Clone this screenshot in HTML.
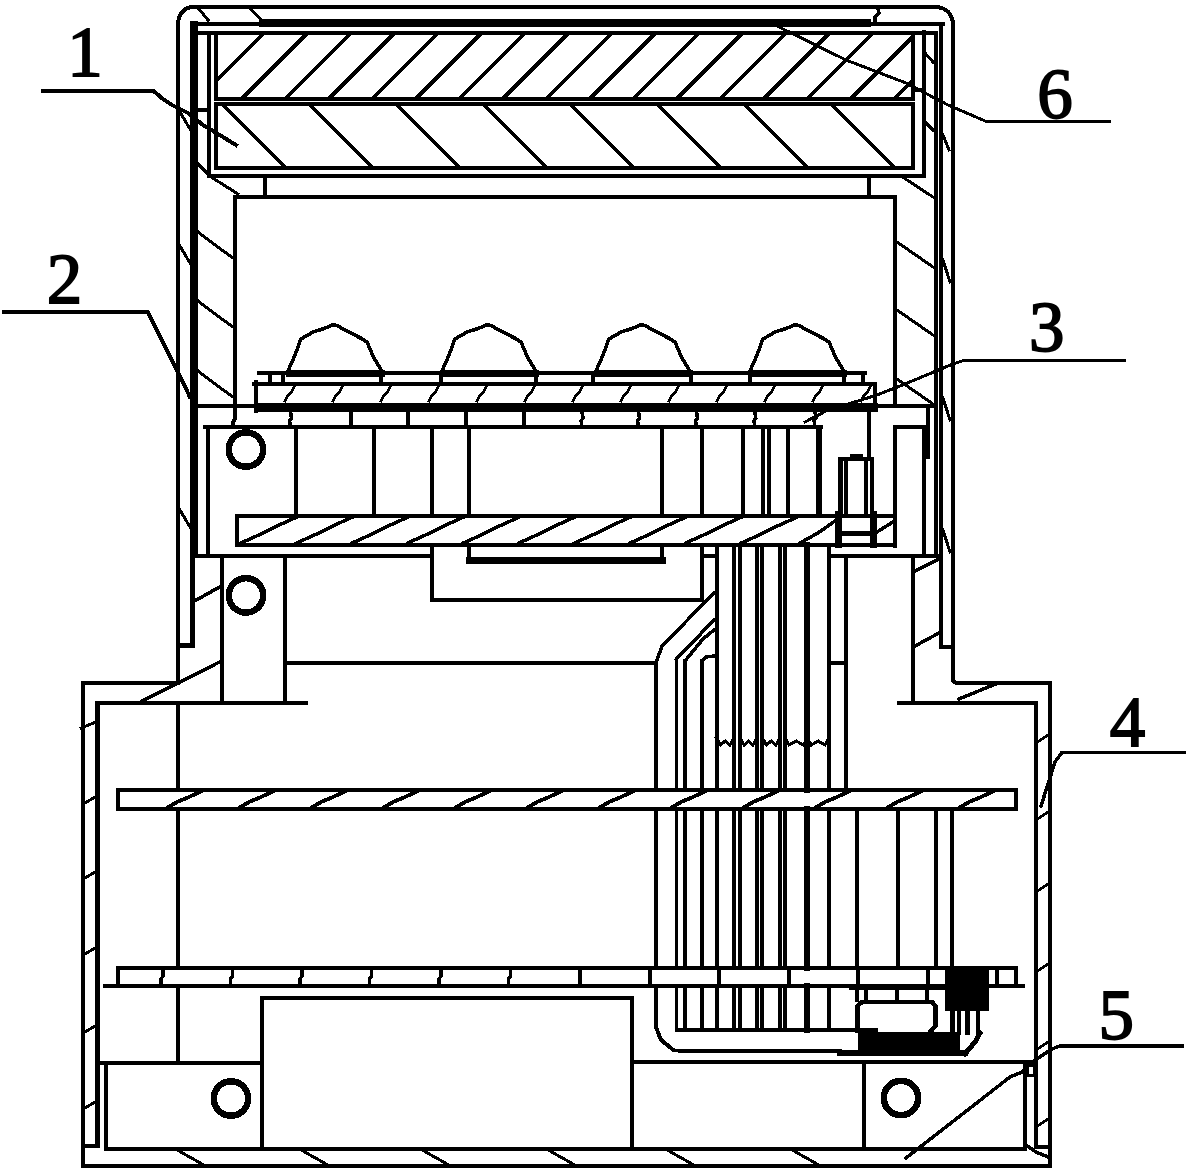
<!DOCTYPE html>
<html><head><meta charset="utf-8"><style>
html,body{margin:0;padding:0;background:#fff;}
svg{display:block;}
text{font-family:"Liberation Serif",serif;}
</style></head><body>
<svg width="1189" height="1172" viewBox="0 0 1189 1172">
<rect width="1189" height="1172" fill="#fff"/>
<g fill="none" stroke="#000" stroke-linejoin="miter" stroke-linecap="square" shape-rendering="crispEdges">
<path d="M178,683 L178,25 C178,14 184,7 194,7 L935,7 C946,7 953,14 953,25 L953,679 Q953,683 958,683 L1050,683 L1050,1166 L83,1166 L83,683 Z" stroke-width="4" fill="none"/>
<polyline points="306,703 97.5,703 97.5,1146 83,1146" stroke-width="4.6"/>
<polyline points="899,703 1036,703 1036,1147 1050,1147" stroke-width="4"/>
<line x1="194" y1="25" x2="194" y2="554" stroke-width="8"/>
<polyline points="178,645.5 192.4,645.5 192.4,556" stroke-width="4.8"/>
<line x1="194" y1="24" x2="943" y2="24" stroke-width="4"/>
<line x1="263" y1="23" x2="867" y2="23" stroke-width="8"/>
<polyline points="941,24 941,647 953,647" stroke-width="4"/>
<polyline points="208.5,176 208.5,33" stroke-width="4"/>
<polyline points="194,33 935.5,33 935.5,556" stroke-width="4"/>
<polyline points="208.5,176 923.5,176 923.5,32" stroke-width="4"/>
<polygon points="215.5,33 912.5,33 912.5,98.5 215.5,98.5" stroke-width="4"/>
<polygon points="215.5,104 912.5,104 912.5,167.5 215.5,167.5" stroke-width="4"/>
<line x1="264.5" y1="176" x2="264.5" y2="197" stroke-width="4"/>
<line x1="869" y1="176" x2="869" y2="197" stroke-width="4"/>
<polyline points="235,418 235,196.5 895,196.5 895,405" stroke-width="4"/>
<line x1="198" y1="406" x2="933" y2="406" stroke-width="4"/>
<line x1="262" y1="35" x2="217" y2="80" stroke-width="3.8"/>
<line x1="305.5" y1="35" x2="243.5" y2="97" stroke-width="3.8"/>
<line x1="349.0" y1="35" x2="287.0" y2="97" stroke-width="3.8"/>
<line x1="392.5" y1="35" x2="330.5" y2="97" stroke-width="3.8"/>
<line x1="436.0" y1="35" x2="374.0" y2="97" stroke-width="3.8"/>
<line x1="479.5" y1="35" x2="417.5" y2="97" stroke-width="3.8"/>
<line x1="523.0" y1="35" x2="461.0" y2="97" stroke-width="3.8"/>
<line x1="566.5" y1="35" x2="504.5" y2="97" stroke-width="3.8"/>
<line x1="610.0" y1="35" x2="548.0" y2="97" stroke-width="3.8"/>
<line x1="653.5" y1="35" x2="591.5" y2="97" stroke-width="3.8"/>
<line x1="697.0" y1="35" x2="635.0" y2="97" stroke-width="3.8"/>
<line x1="740.5" y1="35" x2="678.5" y2="97" stroke-width="3.8"/>
<line x1="784.0" y1="35" x2="722.0" y2="97" stroke-width="3.8"/>
<line x1="827.5" y1="35" x2="765.5" y2="97" stroke-width="3.8"/>
<line x1="871.0" y1="35" x2="809.0" y2="97" stroke-width="3.8"/>
<line x1="911" y1="38.5" x2="852.5" y2="97" stroke-width="3.8"/>
<line x1="911" y1="82.0" x2="896.0" y2="97" stroke-width="3.8"/>
<line x1="224" y1="106" x2="284" y2="166" stroke-width="3.8"/>
<line x1="311" y1="106" x2="371" y2="166" stroke-width="3.8"/>
<line x1="398" y1="106" x2="458" y2="166" stroke-width="3.8"/>
<line x1="485" y1="106" x2="545" y2="166" stroke-width="3.8"/>
<line x1="572" y1="106" x2="632" y2="166" stroke-width="3.8"/>
<line x1="659" y1="106" x2="719" y2="166" stroke-width="3.8"/>
<line x1="746" y1="106" x2="806" y2="166" stroke-width="3.8"/>
<line x1="833" y1="106" x2="893" y2="166" stroke-width="3.8"/>
<polyline points="198,232 215,245 233,258" stroke-width="3"/>
<polyline points="198,301 215,314 233,327" stroke-width="3"/>
<polyline points="198,371 215,384 233,397" stroke-width="3"/>
<line x1="199" y1="110" x2="208" y2="110" stroke-width="4"/>
<line x1="914" y1="90" x2="922" y2="90" stroke-width="4"/>
<polyline points="198,164 211,177 238,194" stroke-width="3"/>
<line x1="180" y1="112" x2="190" y2="129" stroke-width="3"/>
<line x1="180" y1="246" x2="190" y2="263" stroke-width="3"/>
<line x1="180" y1="510" x2="190" y2="527" stroke-width="3"/>
<line x1="897" y1="242" x2="933" y2="267" stroke-width="3"/>
<line x1="897" y1="310" x2="933" y2="335" stroke-width="3"/>
<line x1="897" y1="379" x2="933" y2="404" stroke-width="3"/>
<line x1="943" y1="260" x2="950" y2="282" stroke-width="3"/>
<line x1="943" y1="398" x2="950" y2="420" stroke-width="3"/>
<line x1="943" y1="530" x2="950" y2="552" stroke-width="3"/>
<line x1="925" y1="53" x2="933" y2="62" stroke-width="3"/>
<line x1="925" y1="122" x2="933" y2="130" stroke-width="3"/>
<line x1="904" y1="178" x2="933" y2="197" stroke-width="3"/>
<line x1="943" y1="135" x2="949" y2="150" stroke-width="3"/>
<line x1="199" y1="9" x2="208" y2="20" stroke-width="3"/>
<line x1="251" y1="9" x2="261" y2="20" stroke-width="3"/>
<polyline points="878,9 879,13 875,17 875,20" stroke-width="3.5"/>
<polyline points="288.4,370 293.5,358.5 297.5,348.4 300.6,339.3 312.7,332.2 324.8,328.2 332.9,324.8 336.9,325.5 349,332.2 361.1,338.3 367.2,342.3 373.2,356.5 381.3,370" stroke-width="3.6"/>
<line x1="289" y1="373.5" x2="381" y2="373.5" stroke-width="7"/>
<polyline points="442.4,370 447.5,358.5 451.5,348.4 454.6,339.3 466.7,332.2 478.8,328.2 486.9,324.8 490.9,325.5 503,332.2 515.1,338.3 521.2,342.3 527.2,356.5 535.3,370" stroke-width="3.6"/>
<line x1="443" y1="373.5" x2="535" y2="373.5" stroke-width="7"/>
<polyline points="596.4,370 601.5,358.5 605.5,348.4 608.6,339.3 620.7,332.2 632.8,328.2 640.9,324.8 644.9,325.5 657,332.2 669.1,338.3 675.2,342.3 681.2,356.5 689.3,370" stroke-width="3.6"/>
<line x1="597" y1="373.5" x2="689" y2="373.5" stroke-width="7"/>
<polyline points="750.4,370 755.5,358.5 759.5,348.4 762.6,339.3 774.7,332.2 786.8,328.2 794.9,324.8 798.9,325.5 811,332.2 823.1,338.3 829.2,342.3 835.2,356.5 843.3,370" stroke-width="3.6"/>
<line x1="751" y1="373.5" x2="843" y2="373.5" stroke-width="7"/>
<line x1="259" y1="372.5" x2="865" y2="372.5" stroke-width="4"/>
<line x1="270" y1="374" x2="270" y2="382" stroke-width="4"/>
<line x1="283" y1="374" x2="283" y2="382" stroke-width="4"/>
<line x1="381" y1="374" x2="381" y2="382" stroke-width="4"/>
<line x1="441" y1="374" x2="441" y2="382" stroke-width="4"/>
<line x1="536" y1="374" x2="536" y2="382" stroke-width="4"/>
<line x1="593" y1="374" x2="593" y2="382" stroke-width="4"/>
<line x1="691" y1="374" x2="691" y2="382" stroke-width="4"/>
<line x1="749.5" y1="374" x2="749.5" y2="382" stroke-width="4"/>
<line x1="844" y1="374" x2="844" y2="382" stroke-width="4"/>
<line x1="863" y1="374" x2="863" y2="382" stroke-width="4"/>
<line x1="254" y1="384" x2="874.5" y2="384" stroke-width="4"/>
<line x1="256" y1="382" x2="256" y2="411" stroke-width="4"/>
<line x1="874.5" y1="384" x2="874.5" y2="410" stroke-width="4"/>
<line x1="258" y1="407" x2="873" y2="407" stroke-width="9"/>
<polyline points="285,401 288,395 291,393 294,387" stroke-width="3"/>
<polyline points="333,401 336,395 339,393 342,387" stroke-width="3"/>
<polyline points="381,401 384,395 387,393 390,387" stroke-width="3"/>
<polyline points="429,401 432,395 435,393 438,387" stroke-width="3"/>
<polyline points="477,401 480,395 483,393 486,387" stroke-width="3"/>
<polyline points="525,401 528,395 531,393 534,387" stroke-width="3"/>
<polyline points="573,401 576,395 579,393 582,387" stroke-width="3"/>
<polyline points="621,401 624,395 627,393 630,387" stroke-width="3"/>
<polyline points="669,401 672,395 675,393 678,387" stroke-width="3"/>
<polyline points="717,401 720,395 723,393 726,387" stroke-width="3"/>
<polyline points="765,401 768,395 771,393 774,387" stroke-width="3"/>
<polyline points="813,401 816,395 819,393 822,387" stroke-width="3"/>
<polyline points="861,401 864,395 867,393 870,387" stroke-width="3"/>
<line x1="205" y1="427" x2="821" y2="427" stroke-width="4"/>
<polyline points="290.5,412 291.5,418 289.5,421 290.5,426" stroke-width="3.5"/>
<line x1="351" y1="412" x2="351" y2="426" stroke-width="4"/>
<line x1="408" y1="412" x2="408" y2="426" stroke-width="4"/>
<line x1="466" y1="412" x2="466" y2="426" stroke-width="4"/>
<line x1="524" y1="412" x2="524" y2="426" stroke-width="4"/>
<polyline points="582,412 583,418 581,421 582,426" stroke-width="3.5"/>
<polyline points="638.5,412 639.5,418 637.5,421 638.5,426" stroke-width="3.5"/>
<polyline points="696.5,412 697.5,418 695.5,421 696.5,426" stroke-width="3.5"/>
<polyline points="754.8,412 755.8,418 753.8,421 754.8,426" stroke-width="3.5"/>
<polyline points="815,412 816,418 814,421 815,426" stroke-width="3.5"/>
<line x1="208" y1="427" x2="208" y2="556" stroke-width="4"/>
<polyline points="895,546 895,427 924,427 924,556" stroke-width="4"/>
<line x1="928" y1="409" x2="928" y2="457" stroke-width="4.5"/>
<line x1="296" y1="428" x2="296" y2="514" stroke-width="4"/>
<line x1="373.5" y1="428" x2="373.5" y2="514" stroke-width="4"/>
<line x1="431.5" y1="428" x2="431.5" y2="514" stroke-width="4"/>
<line x1="468.5" y1="428" x2="468.5" y2="514" stroke-width="4"/>
<line x1="662" y1="428" x2="662" y2="514" stroke-width="4"/>
<line x1="702" y1="428" x2="702" y2="514" stroke-width="4"/>
<line x1="742.6" y1="428" x2="742.6" y2="514" stroke-width="4"/>
<line x1="763" y1="428" x2="763" y2="514" stroke-width="4"/>
<line x1="769" y1="428" x2="769" y2="514" stroke-width="4"/>
<line x1="788" y1="428" x2="788" y2="514" stroke-width="4"/>
<line x1="819" y1="428" x2="819" y2="514" stroke-width="6"/>
<polygon points="236.5,515.5 895,515.5 895,544.5 236.5,544.5" stroke-width="4"/>
<polyline points="241.0,543 261.0,534 277.0,526 297.0,517" stroke-width="3.5"/>
<polyline points="296.6,543 316.6,534 332.6,526 352.6,517" stroke-width="3.5"/>
<polyline points="352.2,543 372.2,534 388.2,526 408.2,517" stroke-width="3.5"/>
<polyline points="407.8,543 427.8,534 443.8,526 463.8,517" stroke-width="3.5"/>
<polyline points="463.4,543 483.4,534 499.4,526 519.4,517" stroke-width="3.5"/>
<polyline points="519.0,543 539.0,534 555.0,526 575.0,517" stroke-width="3.5"/>
<polyline points="574.6,543 594.6,534 610.6,526 630.6,517" stroke-width="3.5"/>
<polyline points="630.2,543 650.2,534 666.2,526 686.2,517" stroke-width="3.5"/>
<polyline points="685.8,543 705.8,534 721.8,526 741.8,517" stroke-width="3.5"/>
<polyline points="741.4000000000001,543 761.4000000000001,534 777.4000000000001,526 797.4000000000001,517" stroke-width="3.5"/>
<polyline points="800,543 818,533 835,521" stroke-width="3.5"/>
<polyline points="877,532 893,522" stroke-width="3.5"/>
<polyline points="840.5,514 840.5,458.8 872,458.8 872,514" stroke-width="4.5"/>
<line x1="845.5" y1="460" x2="845.5" y2="514" stroke-width="4"/>
<line x1="866.3" y1="460" x2="866.3" y2="514" stroke-width="4"/>
<rect x="850" y="453.9" width="12.700000000000045" height="4.100000000000023" fill="#000" stroke="none"/>
<line x1="838.8" y1="514" x2="838.8" y2="544.5" stroke-width="7"/>
<line x1="873.5" y1="514" x2="873.5" y2="544.5" stroke-width="7"/>
<line x1="842" y1="533.5" x2="871" y2="533.5" stroke-width="5"/>
<line x1="869" y1="411" x2="869" y2="457" stroke-width="4"/>
<line x1="194" y1="556" x2="431.5" y2="556" stroke-width="4"/>
<line x1="702" y1="556" x2="716" y2="556" stroke-width="4"/>
<line x1="829" y1="556" x2="940" y2="556" stroke-width="4"/>
<circle cx="246" cy="449.5" r="17.2" stroke-width="6.5"/>
<circle cx="246" cy="595.4" r="17.2" stroke-width="6.5"/>
<circle cx="231" cy="1098.5" r="17.2" stroke-width="6.5"/>
<circle cx="901" cy="1098" r="17.2" stroke-width="6.5"/>
<polyline points="235,418 233,423 233,427" stroke-width="4"/>
<line x1="221.5" y1="556" x2="221.5" y2="703" stroke-width="4"/>
<line x1="285" y1="556" x2="285" y2="703" stroke-width="4"/>
<line x1="285" y1="663" x2="655" y2="663" stroke-width="4"/>
<line x1="913" y1="556" x2="913" y2="703" stroke-width="4"/>
<line x1="829" y1="663" x2="846" y2="663" stroke-width="4"/>
<line x1="142" y1="701" x2="219.6" y2="662" stroke-width="3.5"/>
<line x1="194.5" y1="601" x2="219.6" y2="587" stroke-width="3.5"/>
<line x1="81" y1="728" x2="96" y2="722" stroke-width="3"/>
<line x1="915" y1="571" x2="939" y2="559" stroke-width="3.5"/>
<line x1="915" y1="646" x2="939" y2="633" stroke-width="3.5"/>
<line x1="959" y1="699" x2="995.6" y2="684" stroke-width="3.5"/>
<polyline points="431.5,545 431.5,599.5 702,599.5 702,545" stroke-width="4"/>
<polyline points="469,545 469,560 662,560 662,545" stroke-width="4"/>
<line x1="469" y1="560.3" x2="662" y2="560.3" stroke-width="7"/>
<polyline points="656,663 662,646 714,593" stroke-width="3.5"/>
<polyline points="676.5,659 714,620" stroke-width="3.5"/>
<polyline points="685,661 703,639 714,630" stroke-width="3.5"/>
<polyline points="702,661 706,657 714,656" stroke-width="3.5"/>
<line x1="656" y1="663" x2="656" y2="789.5" stroke-width="4"/>
<line x1="656" y1="809.3" x2="656" y2="968" stroke-width="4"/>
<polyline points="656,985.5 656,1027 661,1040 674,1050.5 840,1051" stroke-width="4"/>
<line x1="840" y1="1053" x2="965" y2="1053" stroke-width="6"/>
<line x1="676.5" y1="659" x2="676.5" y2="789.5" stroke-width="3.5"/>
<line x1="676.5" y1="809.3" x2="676.5" y2="968" stroke-width="3.5"/>
<line x1="676.5" y1="985.5" x2="676.5" y2="1030" stroke-width="3.5"/>
<line x1="685" y1="661" x2="685" y2="789.5" stroke-width="3.5"/>
<line x1="685" y1="809.3" x2="685" y2="968" stroke-width="3.5"/>
<line x1="685" y1="985.5" x2="685" y2="1030" stroke-width="3.5"/>
<line x1="702" y1="661" x2="702" y2="789.5" stroke-width="3.5"/>
<line x1="702" y1="809.3" x2="702" y2="968" stroke-width="3.5"/>
<line x1="702" y1="985.5" x2="702" y2="1030" stroke-width="3.5"/>
<line x1="676.5" y1="1029.5" x2="876" y2="1029.5" stroke-width="4"/>
<line x1="716.5" y1="545" x2="716.5" y2="789.5" stroke-width="4"/>
<line x1="716.5" y1="809.3" x2="716.5" y2="968" stroke-width="4"/>
<line x1="716.5" y1="985.5" x2="716.5" y2="1030" stroke-width="4"/>
<line x1="734" y1="545" x2="734" y2="789.5" stroke-width="4"/>
<line x1="734" y1="809.3" x2="734" y2="968" stroke-width="4"/>
<line x1="734" y1="985.5" x2="734" y2="1030" stroke-width="4"/>
<line x1="740" y1="545" x2="740" y2="789.5" stroke-width="4"/>
<line x1="740" y1="809.3" x2="740" y2="968" stroke-width="4"/>
<line x1="740" y1="985.5" x2="740" y2="1030" stroke-width="4"/>
<line x1="757" y1="545" x2="757" y2="789.5" stroke-width="4"/>
<line x1="757" y1="809.3" x2="757" y2="968" stroke-width="4"/>
<line x1="757" y1="985.5" x2="757" y2="1030" stroke-width="4"/>
<line x1="762.4" y1="545" x2="762.4" y2="789.5" stroke-width="4"/>
<line x1="762.4" y1="809.3" x2="762.4" y2="968" stroke-width="4"/>
<line x1="762.4" y1="985.5" x2="762.4" y2="1030" stroke-width="4"/>
<line x1="780" y1="545" x2="780" y2="789.5" stroke-width="4"/>
<line x1="780" y1="809.3" x2="780" y2="968" stroke-width="4"/>
<line x1="780" y1="985.5" x2="780" y2="1030" stroke-width="4"/>
<line x1="785" y1="545" x2="785" y2="789.5" stroke-width="4"/>
<line x1="785" y1="809.3" x2="785" y2="968" stroke-width="4"/>
<line x1="785" y1="985.5" x2="785" y2="1030" stroke-width="4"/>
<line x1="829" y1="545" x2="829" y2="789.5" stroke-width="4"/>
<line x1="829" y1="809.3" x2="829" y2="968" stroke-width="4"/>
<line x1="829" y1="985.5" x2="829" y2="1030" stroke-width="4"/>
<line x1="807.3" y1="545" x2="807.3" y2="789.5" stroke-width="6"/>
<line x1="807.3" y1="809.3" x2="807.3" y2="968" stroke-width="6"/>
<line x1="807.3" y1="985.5" x2="807.3" y2="1030" stroke-width="6"/>
<line x1="846" y1="556" x2="846" y2="789" stroke-width="4"/>
<line x1="857" y1="810" x2="857" y2="966" stroke-width="4"/>
<line x1="897.5" y1="810" x2="897.5" y2="966" stroke-width="4"/>
<line x1="935.5" y1="810" x2="935.5" y2="966" stroke-width="4"/>
<line x1="952" y1="810" x2="952" y2="966" stroke-width="4"/>
<line x1="857" y1="986" x2="857" y2="1000" stroke-width="4"/>
<polyline points="716.5,738 720.5,745 725.25,741 730,745 734,738" stroke-width="3"/>
<polyline points="740,738 744,745 748.5,741 753,745 757,738" stroke-width="3"/>
<polyline points="762.4,738 766.4,745 771.2,741 776,745 780,738" stroke-width="3"/>
<polyline points="785,738 789,745 796.15,741 803.3,745 807.3,738" stroke-width="3"/>
<polyline points="807.3,738 811.3,745 818.15,741 825,745 829,738" stroke-width="3"/>
<line x1="178" y1="703" x2="178" y2="789.5" stroke-width="4"/>
<line x1="178" y1="809.3" x2="178" y2="968" stroke-width="4"/>
<line x1="178" y1="985.5" x2="178" y2="1062" stroke-width="4"/>
<polygon points="118,789.5 1015.5,789.5 1015.5,809.3 118,809.3" stroke-width="4"/>
<polyline points="167,808 177,802 189,797 201,791.5" stroke-width="3.8"/>
<polyline points="239,808 249,802 261,797 273,791.5" stroke-width="3.8"/>
<polyline points="311,808 321,802 333,797 345,791.5" stroke-width="3.8"/>
<polyline points="383,808 393,802 405,797 417,791.5" stroke-width="3.8"/>
<polyline points="455,808 465,802 477,797 489,791.5" stroke-width="3.8"/>
<polyline points="527,808 537,802 549,797 561,791.5" stroke-width="3.8"/>
<polyline points="599,808 609,802 621,797 633,791.5" stroke-width="3.8"/>
<polyline points="671,808 681,802 693,797 705,791.5" stroke-width="3.8"/>
<polyline points="743,808 753,802 765,797 777,791.5" stroke-width="3.8"/>
<polyline points="815,808 825,802 837,797 849,791.5" stroke-width="3.8"/>
<polyline points="887,808 897,802 909,797 921,791.5" stroke-width="3.8"/>
<polyline points="959,808 969,802 981,797 993,791.5" stroke-width="3.8"/>
<line x1="118" y1="968" x2="1015.5" y2="968" stroke-width="4"/>
<line x1="118" y1="968" x2="118" y2="985" stroke-width="4"/>
<line x1="1015.5" y1="968" x2="1015.5" y2="985" stroke-width="4"/>
<line x1="105" y1="985.5" x2="1023" y2="985.5" stroke-width="4"/>
<polyline points="163.0,970 163.0,976 161.0,979 161.0,984" stroke-width="3.5"/>
<polyline points="232.5,970 232.5,976 230.5,979 230.5,984" stroke-width="3.5"/>
<polyline points="302.0,970 302.0,976 300.0,979 300.0,984" stroke-width="3.5"/>
<polyline points="371.5,970 371.5,976 369.5,979 369.5,984" stroke-width="3.5"/>
<polyline points="441.0,970 441.0,976 439.0,979 439.0,984" stroke-width="3.5"/>
<polyline points="510.5,970 510.5,976 508.5,979 508.5,984" stroke-width="3.5"/>
<line x1="580.0" y1="970" x2="580.0" y2="984" stroke-width="4"/>
<line x1="649.5" y1="970" x2="649.5" y2="984" stroke-width="4"/>
<line x1="719.0" y1="970" x2="719.0" y2="984" stroke-width="4"/>
<line x1="788.5" y1="970" x2="788.5" y2="984" stroke-width="4"/>
<line x1="858.0" y1="970" x2="858.0" y2="984" stroke-width="4"/>
<line x1="927.5" y1="970" x2="927.5" y2="984" stroke-width="4"/>
<line x1="997.0" y1="970" x2="997.0" y2="984" stroke-width="4"/>
<polyline points="261.5,1149 261.5,997.5 632,997.5 632,1149" stroke-width="4"/>
<line x1="99" y1="1063" x2="261.5" y2="1063" stroke-width="4"/>
<line x1="106" y1="1063" x2="106" y2="1149" stroke-width="4"/>
<line x1="106" y1="1149" x2="1025" y2="1149" stroke-width="4"/>
<line x1="632" y1="1062" x2="1035" y2="1062" stroke-width="4"/>
<line x1="1025" y1="1062" x2="1025" y2="1149" stroke-width="4"/>
<line x1="863.5" y1="1062" x2="863.5" y2="1149" stroke-width="4"/>
<rect x="945" y="967" width="44" height="43.5" fill="#000" stroke="none"/>
<line x1="952.5" y1="1010" x2="952.5" y2="1033" stroke-width="4.5"/>
<line x1="959" y1="1010" x2="959" y2="1033" stroke-width="4.5"/>
<line x1="967.5" y1="1010" x2="967.5" y2="1033" stroke-width="4.5"/>
<line x1="978" y1="1010" x2="978" y2="1033" stroke-width="4.5"/>
<polyline points="980,1033 975,1042 965,1054" stroke-width="5"/>
<path d="M857.5,1031 L857.5,1006 L862,1002 L932,1002 L935.5,1006 L935.5,1026 L931,1031" stroke-width="4.5" fill="none"/>
<line x1="866" y1="988" x2="866" y2="1001" stroke-width="4.5"/>
<line x1="897" y1="988" x2="897" y2="1001" stroke-width="4.5"/>
<line x1="927" y1="988" x2="927" y2="1001" stroke-width="4.5"/>
<rect x="858" y="1032" width="102" height="18" fill="#000" stroke="none"/>
<line x1="850" y1="988.5" x2="945" y2="988.5" stroke-width="2"/>
<line x1="85" y1="803" x2="95" y2="797" stroke-width="3"/>
<line x1="85" y1="878" x2="95" y2="872" stroke-width="3"/>
<line x1="85" y1="954" x2="95" y2="948" stroke-width="3"/>
<line x1="85" y1="1032" x2="95" y2="1026" stroke-width="3"/>
<line x1="85" y1="1108" x2="95" y2="1102" stroke-width="3"/>
<line x1="1039" y1="741" x2="1048" y2="735" stroke-width="3"/>
<line x1="1039" y1="818" x2="1048" y2="812" stroke-width="3"/>
<line x1="1039" y1="890" x2="1048" y2="884" stroke-width="3"/>
<line x1="1039" y1="970" x2="1048" y2="964" stroke-width="3"/>
<line x1="1039" y1="1048" x2="1048" y2="1042" stroke-width="3"/>
<line x1="1039" y1="1125" x2="1048" y2="1119" stroke-width="3"/>
<line x1="179" y1="1151" x2="202" y2="1164" stroke-width="3"/>
<line x1="303" y1="1151" x2="326" y2="1164" stroke-width="3"/>
<line x1="424" y1="1151" x2="447" y2="1164" stroke-width="3"/>
<line x1="550" y1="1151" x2="573" y2="1164" stroke-width="3"/>
<line x1="669" y1="1151" x2="692" y2="1164" stroke-width="3"/>
<line x1="794" y1="1151" x2="817" y2="1164" stroke-width="3"/>
<text x="85" y="75.5" font-size="71" text-anchor="middle" fill="#000" stroke="#000" stroke-width="1.8">1</text>
<polyline points="43,90.5 153,90.5 163,99 172,105 188,113 203,125 219,134.6 236,145" stroke-width="4"/>
<text x="64.6" y="302.8" font-size="71" text-anchor="middle" fill="#000" stroke="#000" stroke-width="1.8">2</text>
<polyline points="4,312 148,312 190,397" stroke-width="4"/>
<text x="1046.8" y="350.5" font-size="71" text-anchor="middle" fill="#000" stroke="#000" stroke-width="1.8">3</text>
<polyline points="1124,360.7 963,360.7 953,364 900,386 877,395 826,411 805,422" stroke-width="3"/>
<text x="1127.5" y="745.8" font-size="71" text-anchor="middle" fill="#000" stroke="#000" stroke-width="1.8">4</text>
<polyline points="1184,752.3 1062,752.3 1055,762 1041,806" stroke-width="3.5"/>
<text x="1116.3" y="1039" font-size="71" text-anchor="middle" fill="#000" stroke="#000" stroke-width="1.8">5</text>
<polyline points="1182,1045.8 1060,1045.8 1052,1049 1035,1060 1022,1072 1010,1077 906,1158" stroke-width="3.5"/>
<polygon points="1027.5,1065 1034,1065 1034,1075.5 1027.5,1075.5" stroke-width="3"/>
<polyline points="1026,1145 1036,1152 1048,1157" stroke-width="3.5"/>
<text x="1055" y="118" font-size="71" text-anchor="middle" fill="#000" stroke="#000" stroke-width="1.8">6</text>
<polyline points="779,27 846,60 906,83 948,105 987,121.8 1109,121.8" stroke-width="3"/>
</g></svg></body></html>
